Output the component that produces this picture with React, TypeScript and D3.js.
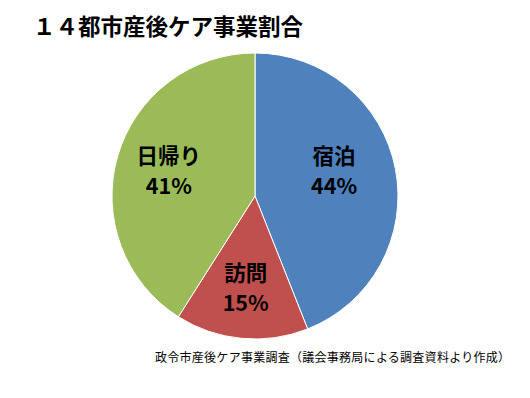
import React from 'react';
import * as d3 from 'd3';

const categories = ['宿泊', '訪問', '日帰り'];
const shares = [44, 15, 41];
const colors = ['#4F81BD', '#C0504D', '#9BBB59'];

// label nudges relative to the slice centroid (placement only)
const labelNudge: [number, number][] = [[-8, -12], [-1, 0], [-1, -4]];

const W = 530;
const H = 398;

const App: React.FC = () => {
    const cx = 255;
    const cy = 196;
    const r = 143;

    const pie = d3.pie<number>().sort(null).value(d => d);
    const arcs = pie(shares);
    const arc = d3.arc<d3.PieArcDatum<number>>().innerRadius(0).outerRadius(r);
    const labelArc = d3.arc<d3.PieArcDatum<number>>().innerRadius(r * 0.62).outerRadius(r * 0.62);

    const font = '"Noto Sans CJK JP", sans-serif';

    return (
        <svg width={W} height={H} style={{ position: 'absolute', left: 0, top: 0, background: 'white' }}>
            <text x={33} y={35} fontFamily={font} fontSize={22.5} fontWeight="bold" fill="#000">
                １４都市産後ケア事業割合
            </text>
            <g transform={`translate(${cx},${cy})`}>
                {arcs.map((a, i) => (
                    <path key={i} d={arc(a) || ''} fill={colors[i]} stroke="#fff" strokeWidth={1} />
                ))}
                {arcs.map((a, i) => {
                    const [lx0, ly0] = labelArc.centroid(a);
                    const lx = lx0 + labelNudge[i][0];
                    const ly = ly0 + labelNudge[i][1];
                    return (
                        <text key={'l' + i} textAnchor="middle" fontFamily={font} fontSize={21.5} fontWeight="bold" fill="#000">
                            <tspan x={lx} y={ly - 3}>{categories[i]}</tspan>
                            <tspan x={lx} y={ly + 27}>{shares[i]}%</tspan>
                        </text>
                    );
                })}
            </g>
            <text x={155} y={362} fontFamily={font} fontSize={12} fill="#000" textLength={355} lengthAdjust="spacing">
                政令市産後ケア事業調査（議会事務局による調査資料より作成）
            </text>
        </svg>
    );
};

export default App;
